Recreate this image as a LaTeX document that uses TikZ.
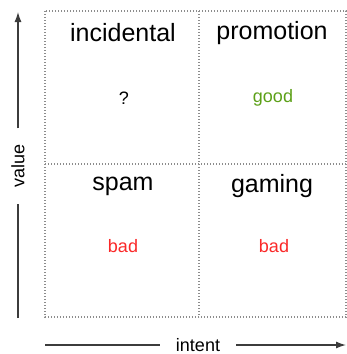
\documentclass[tikz,border=0pt]{standalone}
\usepackage{fontspec}
\setmainfont{Liberation Sans}
\usetikzlibrary{arrows.meta}
\definecolor{goodgreen}{RGB}{92,160,24}
\definecolor{badred}{RGB}{250,40,40}
\definecolor{axisgray}{RGB}{60,60,60}
\definecolor{gridgray}{RGB}{140,140,140}
\tikzset{
  grid line/.style={draw=gridgray, line width=1.1pt, dash pattern=on 1.3pt off 1.7pt},
  axis/.style={draw=axisgray, line width=1.3pt},
  axis tip/.style={axis, -{Latex[length=10pt,width=7pt]}},
  title/.style={font=\fontsize{25}{28}\selectfont, text=black, inner sep=0pt},
  verdict/.style={font=\fontsize{18}{20}\selectfont, inner sep=0pt},
  axis label/.style={font=\fontsize{18}{20}\selectfont, inner ysep=0pt, inner xsep=16pt},
}
\begin{document}
\begin{tikzpicture}[x=1pt, y=-1pt]
  \useasboundingbox (0,0) rectangle (346,354);
  % quadrant frame
  \coordinate (tl) at (45,11);
  \coordinate (br) at (346,317);
  \coordinate (vt) at (199,11);
  \coordinate (vb) at (199,317);
  \coordinate (hl) at (45,164);
  \coordinate (hr) at (346,164);
  \path[grid line] (tl) rectangle (br);
  \path[grid line] (vt) -- (vb);
  \path[grid line] (hl) -- (hr);
  % quadrant titles
  \node[title] (incidental) at (123,33) {incidental};
  \node[title] (promotion) at (272,33) {promotion};
  \node[title] (spam) at (123,186) {spam};
  \node[title] (gaming) at (272,186) {gaming};
  % verdicts
  \node[verdict] (q1) at (124,98) {?};
  \node[verdict, text=goodgreen] (q2) at (273,98) {good};
  \node[verdict, text=badred] (q3) at (123,246) {bad};
  \node[verdict, text=badred] (q4) at (274,246) {bad};
  % vertical axis
  \coordinate (vbot) at (18,318);
  \coordinate (vtop) at (18,12);
  \node[axis label, rotate=90] (value) at (18,166) {value};
  \path[axis] (vbot) -- (value);
  \path[axis tip] (value) -- (vtop);
  % horizontal axis
  \coordinate (hleft) at (45,345);
  \coordinate (hright) at (346,345);
  \node[axis label] (intent) at (198,345) {intent};
  \path[axis] (hleft) -- (intent);
  \path[axis tip] (intent) -- (hright);
\end{tikzpicture}
\end{document}
